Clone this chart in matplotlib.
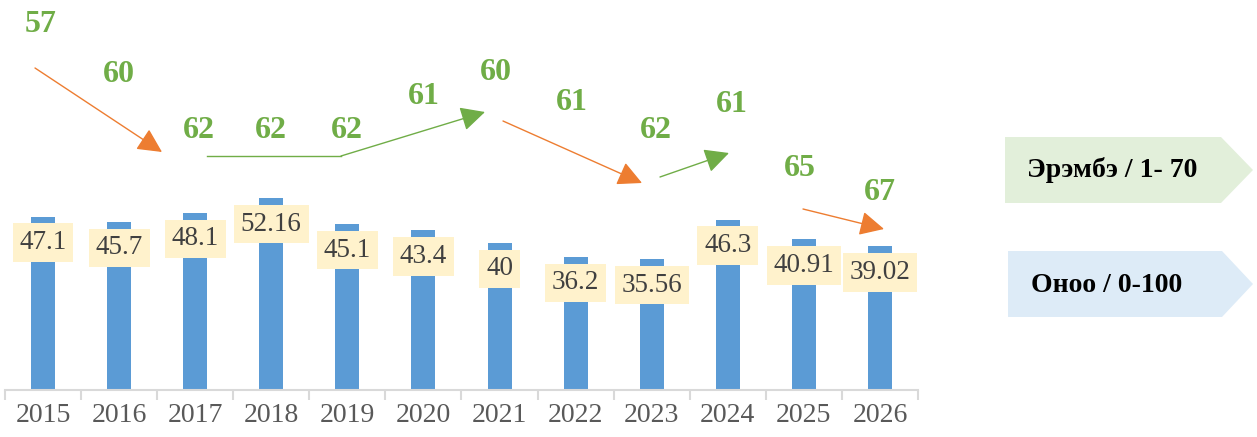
import matplotlib
matplotlib.use("Agg")
import matplotlib.pyplot as plt
from matplotlib.patches import Polygon, FancyArrowPatch

years = ["2015", "2016", "2017", "2018", "2019", "2020", "2021", "2022", "2023", "2024", "2025", "2026"]
scores = [47.1, 45.7, 48.1, 52.16, 45.1, 43.4, 40, 36.2, 35.56, 46.3, 40.91, 39.02]
score_labels = ["47.1", "45.7", "48.1", "52.16", "45.1", "43.4", "40", "36.2", "35.56", "46.3", "40.91", "39.02"]
ranks = [57, 60, 62, 62, 62, 61, 60, 61, 62, 61, 65, 67]
legend_texts = ["Эрэмбэ / 1- 70", "Оноо / 0-100"]

# layout (pixel positions of rank labels, centre y)
rank_y_px = [25, 75, 130, 130, 130, 97, 73, 103, 130, 104, 168, 193]
rank_x_shift = [-0.03, 0, 0.05, 0, 0, 0, -0.05, -0.05, 0.05, 0.05, -0.05, 0]

W, H = 1257, 437
fig = plt.figure(figsize=(W / 100, H / 100), dpi=100)

ax = fig.add_axes([5 / W, (H - 390) / H, 913 / W, 390 / H])
x = list(range(len(years)))
ax.bar(x, scores, width=0.315, color="#5B9BD5", zorder=2)
ax.set_xlim(-0.5, len(years) - 0.5)
ax.set_ylim(0, 390 / 3.68)
for s in ["top", "left", "right"]:
    ax.spines[s].set_visible(False)
ax.spines["bottom"].set_color("#D9D9D9")
ax.spines["bottom"].set_linewidth(1.5)
ax.set_yticks([])
ax.set_xticks([i - 0.5 for i in range(len(years) + 1)], minor=False)
ax.set_xticklabels([])
ax.tick_params(axis="x", which="major", length=7, width=1.5, color="#D9D9D9", direction="out")
ax.set_xticks(x, minor=True)
ax.set_xticklabels(years, minor=True)
ax.tick_params(axis="x", which="minor", length=0, pad=9, labelsize=20,
               labelcolor="#595959")
for lab in ax.get_xticklabels(minor=True):
    lab.set_fontfamily("Liberation Serif")

for i, (v, t) in enumerate(zip(scores, score_labels)):
    ax.annotate(t, (i, v), xytext=(0, -26), textcoords="offset pixels",
                ha="center", va="center", fontsize=19.5, family="Liberation Serif",
                color="#404040", zorder=3,
                bbox=dict(boxstyle="square,pad=0.25", fc="#FFF2CC", ec="none"))

# overlay axes in pixel coordinates
ov = fig.add_axes([0, 0, 1, 1], facecolor="none")
ov.set_xlim(0, W)
ov.set_ylim(H, 0)
ov.axis("off")

cat_w = 913 / len(years)
for i, r in enumerate(ranks):
    cx = 5 + cat_w * (i + 0.5 + rank_x_shift[i])
    ov.text(cx, rank_y_px[i], str(r), ha="center", va="center", fontsize=23,
            fontweight="bold", family="Liberation Serif", color="#70AD47")

orange = "#ED7D31"
green = "#70AD47"

def arrow(p0, p1, color):
    a = FancyArrowPatch(p0, p1, arrowstyle="-|>,head_length=10,head_width=5",
                        mutation_scale=1.5, color=color, lw=1.0, shrinkA=0, shrinkB=0)
    ov.add_patch(a)

arrow((35, 68), (162, 152), orange)
ov.plot([207, 341], [156, 156], color=green, lw=1.0)
arrow((341, 156), (485, 112), green)
arrow((503, 121), (642, 183), orange)
arrow((660, 177), (729, 153), green)
arrow((803, 209), (884, 229), orange)

# pentagon legend shapes
def pent(x0, y0, x1, y1, tip, color):
    ym = (y0 + y1) / 2
    ov.add_patch(Polygon([(x0, y0), (x1, y0), (tip, ym), (x1, y1), (x0, y1)],
                         closed=True, fc=color, ec="none"))

pent(1005, 137, 1221, 203, 1253, "#E2EFDA")
pent(1008, 251, 1222, 317, 1253, "#DDEBF7")
ov.text(1027, 170, legend_texts[0], ha="left", va="center", fontsize=20,
        fontweight="bold", family="Liberation Serif", color="black")
ov.text(1031, 286, legend_texts[1], ha="left", va="center", fontsize=20,
        fontweight="bold", family="Liberation Serif", color="black")

fig.savefig("out.png", dpi=100)
